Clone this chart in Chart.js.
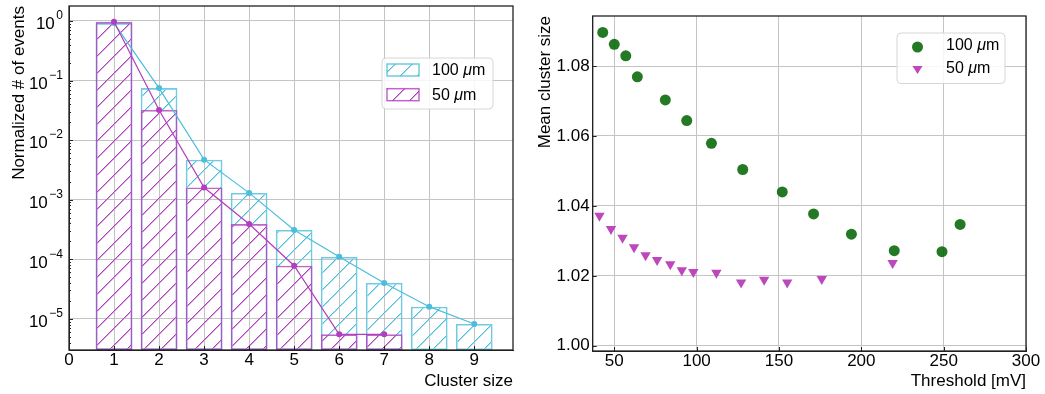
<!DOCTYPE html>
<html>
<head>
<meta charset="utf-8">
<script src="https://cdn.jsdelivr.net/npm/chart.js@4.4.1/dist/chart.umd.min.js"></script>
<style>
  html, body { margin: 0; padding: 0; background: #fff; }
  #wrap { position: relative; width: 1045px; height: 394px; }
  .box { position: absolute; top: 0; height: 394px; }
</style>
</head>
<body>
<div id="wrap">
  <div class="box" style="left:0;width:525px"><canvas id="histChart"></canvas></div>
  <div class="box" style="left:525px;width:520px"><canvas id="meanChart"></canvas></div>
</div>
<script>
// left panel: cluster size distribution
const clusterSizes = [1, 2, 3, 4, 5, 6, 7, 8, 9];
const frac100 = [0.919, 0.0746, 0.0047, 0.0013, 3.1e-4, 1.1e-4, 4.0e-5, 1.6e-5, 8.2e-6];
const frac50 = [0.966, 0.032, 0.0016, 3.9e-4, 7.8e-5, 5.5e-6, 5.5e-6];
const histXTicks = [0, 1, 2, 3, 4, 5, 6, 7, 8, 9];
const histYTicks = [1e-5, 1e-4, 1e-3, 1e-2, 1e-1, 1];

// right panel: mean cluster size vs threshold
const thr100 = [43, 50, 57, 64, 81, 94, 109, 128, 152, 171, 194, 220, 249, 260];
const mean100 = [1.0896, 1.0862, 1.0829, 1.0769, 1.0703, 1.0644, 1.0579, 1.0504, 1.0440, 1.0377, 1.0319, 1.0272, 1.0269, 1.0347];
const thr50 = [41, 48, 55, 62, 69, 76, 84, 91, 98, 112, 127, 141, 155, 176, 219];
const mean50 = [1.0372, 1.0334, 1.0309, 1.0282, 1.0259, 1.0245, 1.0233, 1.0216, 1.0211, 1.0209, 1.0181, 1.0189, 1.0181, 1.0191, 1.0237];
const thrTicks = [50, 100, 150, 200, 250, 300];
const meanTicks = [1.00, 1.02, 1.04, 1.06, 1.08];

const labels = ["100 ", "50 "];

const FONT = "'Liberation Sans', Arial, Helvetica, sans-serif";
Chart.defaults.font.family = FONT;
Chart.defaults.font.size = 17;
Chart.defaults.color = "#000";

const CYAN = "#4cbedb";
const MAG = "#b23dbe";
const GREEN = "rgba(0,100,0,0.86)";
const PINK = "#bd48bd";
const GRID = "#c4c4c4";

// hatch "/" as a canvas pattern, drawn pixel by pixel (opaque) so the
// magenta hatch fully covers the cyan one where bars overlap
function hatch(color, soft) {
  const P = 17;
  const c = document.createElement("canvas");
  c.width = P; c.height = P;
  const g = c.getContext("2d");
  g.fillStyle = soft;
  for (let i = 0; i < P; i++) g.fillRect(i, (2 * P - i) % P, 1, 1);
  g.fillStyle = color;
  for (let i = 0; i < P; i++) g.fillRect(i, P - 1 - i, 1, 1);
  return g.createPattern(c, "repeat");
}
const hatchCyan = hatch(CYAN, "#a6dfed");
const hatchMag = hatch(MAG, "#d99edf");

function fixTicks(values) {
  return scale => { scale.ticks = values.map(v => ({ value: v })); };
}

// frame + inward tick marks, like matplotlib
function frameAndTicks(minorLog) {
  return {
    id: "frame",
    afterDatasetsDraw(chart) {
      const { ctx, chartArea: a, scales } = chart;
      ctx.save();
      ctx.strokeStyle = "#222";
      ctx.lineWidth = 1;
      ctx.beginPath();
      scales.x.ticks.forEach(t => {
        const px = Math.round(scales.x.getPixelForValue(t.value)) + 0.5;
        ctx.moveTo(px, a.bottom); ctx.lineTo(px, a.bottom - 4);
      });
      scales.y.ticks.forEach(t => {
        const py = Math.round(scales.y.getPixelForValue(t.value)) + 0.5;
        ctx.moveTo(a.left, py); ctx.lineTo(a.left + 4, py);
      });
      if (minorLog) {
        for (let k = -6; k <= 0; k++) {
          for (let m = 2; m <= 9; m++) {
            const v = m * Math.pow(10, k);
            if (v < scales.y.min || v > scales.y.max) continue;
            const py = Math.round(scales.y.getPixelForValue(v)) + 0.5;
            ctx.moveTo(a.left, py); ctx.lineTo(a.left + 2, py);
          }
        }
      }
      ctx.stroke();
      ctx.lineWidth = 1.3;
      ctx.strokeRect(a.left, a.top, a.right - a.left, a.bottom - a.top);
      ctx.restore();
    }
  };
}

function legendBox(ctx, x, y, w, h) {
  ctx.save();
  ctx.fillStyle = "rgba(255,255,255,0.85)";
  ctx.strokeStyle = "#d6d6d6";
  ctx.lineWidth = 1;
  ctx.beginPath();
  ctx.roundRect(x + 0.5, y + 0.5, w, h, 4);
  ctx.fill();
  ctx.stroke();
  ctx.restore();
}

function legendText(ctx, x, y, num) {
  ctx.save();
  ctx.fillStyle = "#000";
  ctx.textBaseline = "middle";
  ctx.textAlign = "left";
  ctx.font = "16px " + FONT;
  ctx.fillText(num, x, y);
  let cx = x + ctx.measureText(num).width;
  ctx.font = "italic 16px " + FONT;
  ctx.fillText("\u03bc", cx, y);
  cx += ctx.measureText("\u03bc").width;
  ctx.font = "16px " + FONT;
  ctx.fillText("m", cx, y);
  ctx.restore();
}

// log tick labels with superscript exponents
const logLabels = {
  id: "logLabels",
  afterDraw(chart) {
    const { ctx, chartArea: a, scales } = chart;
    ctx.save();
    ctx.fillStyle = "#000";
    ctx.textAlign = "right";
    ctx.textBaseline = "alphabetic";
    scales.y.ticks.forEach(t => {
      const py = scales.y.getPixelForValue(t.value);
      const e = Math.round(Math.log10(t.value));
      const exp = e < 0 ? "\u2212" + (-e) : String(e);
      ctx.font = "12px " + FONT;
      const ex = a.left - 6;
      ctx.fillText(exp, ex, py - 1.7);
      const ew = ctx.measureText(exp).width;
      ctx.font = "17px " + FONT;
      ctx.fillText("10", ex - ew - 1.5, py + 8.3);
    });
    ctx.restore();
  }
};

const histLegend = {
  id: "histLegend",
  afterDraw(chart) {
    const { ctx, chartArea: a } = chart;
    const bx = a.right - 131.5, by = a.top + 51.5;
    legendBox(ctx, bx, by, 111, 51);
    [[hatchCyan, CYAN, labels[0]], [hatchMag, MAG, labels[1]]].forEach(([pat, col, txt], i) => {
      const py = by + 6.5 + i * 24.7;
      ctx.save();
      ctx.fillStyle = pat;
      ctx.fillRect(bx + 5.5, py, 32, 12);
      ctx.strokeStyle = col;
      ctx.globalAlpha = 0.8;
      ctx.lineWidth = 1.5;
      ctx.strokeRect(bx + 5.5, py, 32, 12);
      ctx.restore();
      legendText(ctx, bx + 50.5, py + 6.5, txt);
    });
  }
};

const meanLegend = {
  id: "meanLegend",
  afterDraw(chart) {
    const { ctx, chartArea: a } = chart;
    const bx = a.right - 129.5, by = a.top + 16.5;
    legendBox(ctx, bx, by, 108, 50.5);
    ctx.save();
    ctx.fillStyle = GREEN;
    ctx.beginPath();
    ctx.arc(bx + 21, by + 14.5, 5.5, 0, Math.PI * 2);
    ctx.fill();
    ctx.fillStyle = PINK;
    ctx.beginPath();
    const tx = bx + 21, ty = by + 37;
    ctx.moveTo(tx - 5, ty - 3.5);
    ctx.lineTo(tx + 5, ty - 3.5);
    ctx.lineTo(tx, ty + 4.5);
    ctx.closePath();
    ctx.fill();
    ctx.restore();
    legendText(ctx, bx + 49.5, by + 13, labels[0]);
    legendText(ctx, bx + 49.5, by + 36, labels[1]);
  }
};

new Chart(document.getElementById("histChart"), {
  type: "bar",
  data: {
    datasets: [
      {
        type: "line",
        data: frac50.map((v, i) => ({ x: clusterSizes[i], y: v })),
        borderColor: MAG, backgroundColor: MAG, borderWidth: 1.2,
        pointRadius: 3, pointBorderWidth: 0, order: 1
      },
      {
        type: "line",
        data: frac100.map((v, i) => ({ x: clusterSizes[i], y: v })),
        borderColor: CYAN, backgroundColor: CYAN, borderWidth: 1.2,
        pointRadius: 3, pointBorderWidth: 0, order: 2
      },
      {
        label: "50 um",
        data: frac50.map((v, i) => ({ x: clusterSizes[i], y: v })),
        backgroundColor: hatchMag, borderColor: "rgba(178,61,190,0.8)",
        borderWidth: 1.6, borderSkipped: false, order: 3
      },
      {
        label: "100 um",
        data: frac100.map((v, i) => ({ x: clusterSizes[i], y: v })),
        backgroundColor: hatchCyan, borderColor: "rgba(76,190,219,0.8)",
        borderWidth: 1.6, borderSkipped: false, order: 4
      }
    ]
  },
  options: {
    responsive: true,
    maintainAspectRatio: false,
    animation: false,
    layout: { padding: { left: 0, right: 12, top: 6, bottom: 0 } },
    datasets: { bar: { grouped: false, categoryPercentage: 1, barPercentage: 0.815 } },
    plugins: { legend: { display: false }, tooltip: { enabled: false } },
    scales: {
      x: {
        type: "linear", min: 0, max: 9.86, offset: false,
        afterBuildTicks: fixTicks(histXTicks),
        afterFit: s => { s.height = 44; s.paddingLeft = 0; s.paddingRight = 0; },
        grid: { color: GRID, drawTicks: false, offset: false },
        border: { color: "#222" },
        ticks: { padding: 0, maxRotation: 0, autoSkip: false },
        title: { display: true, text: "Cluster size", align: "end", padding: { top: 0, bottom: 2 } }
      },
      y: {
        type: "logarithmic", min: 3e-6, max: 1.78,
        afterBuildTicks: fixTicks(histYTicks),
        afterFit: s => { s.width = 69; s.paddingTop = 0; s.paddingBottom = 0; },
        grid: { color: GRID, drawTicks: false },
        border: { color: "#222" },
        ticks: { callback: () => "" },
        title: { display: true, text: "Normalized # of events", align: "end", padding: { top: 9, bottom: 0 } }
      }
    }
  },
  plugins: [frameAndTicks(true), logLabels, histLegend]
});

new Chart(document.getElementById("meanChart"), {
  type: "scatter",
  data: {
    datasets: [
      {
        label: "100 um",
        data: thr100.map((t, i) => ({ x: t, y: mean100[i] })),
        backgroundColor: GREEN, borderWidth: 0, pointRadius: 5.5, pointStyle: "circle"
      },
      {
        label: "50 um",
        data: thr50.map((t, i) => ({ x: t, y: mean50[i] })),
        backgroundColor: PINK, borderWidth: 0, pointRadius: 6, pointStyle: "triangle", rotation: 180
      }
    ]
  },
  options: {
    responsive: true,
    maintainAspectRatio: false,
    animation: false,
    layout: { padding: { left: 0, right: 19, top: 16, bottom: 0 } },
    plugins: { legend: { display: false }, tooltip: { enabled: false } },
    scales: {
      x: {
        type: "linear", min: 36.9, max: 300,
        afterBuildTicks: fixTicks(thrTicks),
        afterFit: s => { s.height = 43; s.paddingLeft = 0; s.paddingRight = 0; },
        grid: { color: GRID, drawTicks: false },
        border: { color: "#222" },
        ticks: { padding: 0, maxRotation: 0, autoSkip: false },
        title: { display: true, text: "Threshold [mV]", align: "end", padding: { top: 0, bottom: 2 } }
      },
      y: {
        type: "linear", min: 0.9985, max: 1.0943,
        afterBuildTicks: fixTicks(meanTicks),
        afterFit: s => { s.width = 67.7; s.paddingTop = 0; s.paddingBottom = 0; },
        grid: { color: GRID, drawTicks: false },
        border: { color: "#222" },
        ticks: { padding: 3, callback: v => Number(v).toFixed(2) },
        title: { display: true, text: "Mean cluster size", align: "end", padding: { top: 10.5, bottom: 0 } }
      }
    }
  },
  plugins: [frameAndTicks(false), meanLegend]
});
</script>
</body>
</html>
